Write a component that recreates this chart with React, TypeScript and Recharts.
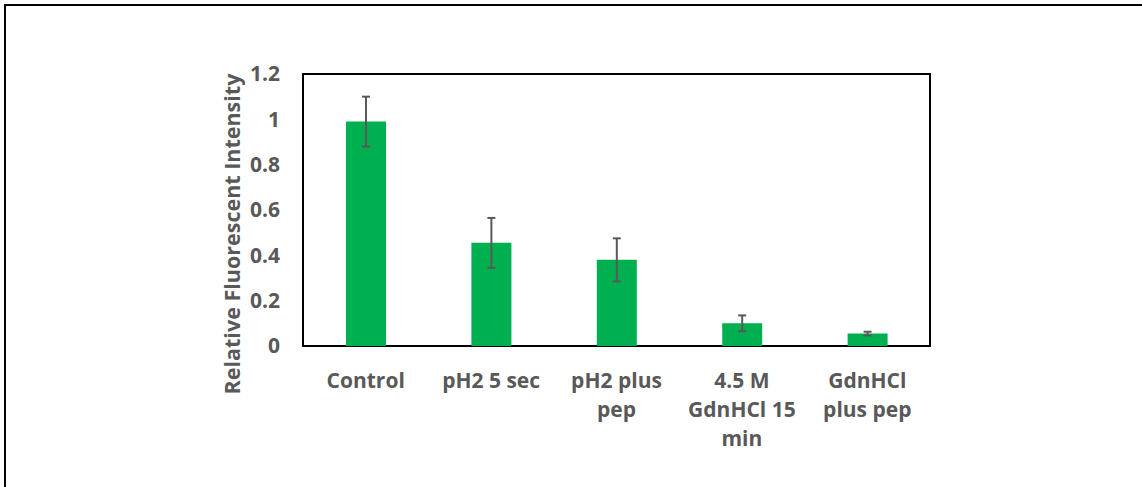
import React from 'react';
import {
  BarChart,
  Bar,
  XAxis,
  YAxis,
  ErrorBar,
  ReferenceArea,
  Label,
} from 'recharts';

// categories (\n = line break as in the original figure)
const categories = [
  'Control',
  'pH2 5 sec',
  'pH2 plus\npep',
  '4.5 M\nGdnHCl 15\nmin',
  'GdnHCl\nplus pep',
];
const intensity = [0.99, 0.455, 0.38, 0.1, 0.055];
const errors = [0.11, 0.11, 0.095, 0.035, 0.008];
const yTicks = [0, 0.2, 0.4, 0.6, 0.8, 1, 1.2];

const data = categories.map((name, i) => ({
  name,
  value: intensity[i],
  err: errors[i],
}));

const FONT = '"Open Sans", Lato, sans-serif';
const GRAY = '#595959';

const CategoryTick = (props: any) => {
  const { x, y, payload } = props;
  const lines = String(payload.value).split('\n');
  return (
    <text
      x={x}
      y={y + 42}
      textAnchor="middle"
      fill={GRAY}
      fontSize={21}
      fontWeight="bold"
      fontFamily={FONT}
    >
      {lines.map((line, i) => (
        <tspan key={i} x={x} dy={i === 0 ? 0 : 29}>
          {line}
        </tspan>
      ))}
    </text>
  );
};

const YTitle = () => (
  <text
    x={231}
    y={234}
    transform="rotate(-90 231 234)"
    textAnchor="middle"
    dominantBaseline="central"
    fill={GRAY}
    fontSize={21.5}
    fontWeight="bold"
    fontFamily={FONT}
  >
    Relative Fluorescent Intensity
  </text>
);

export default function App() {
  return (
    <div
      style={{
        position: 'fixed',
        left: 0,
        top: 0,
        width: 1142,
        height: 487,
        background: '#fff',
        overflow: 'hidden',
      }}
    >
      <div
        style={{
          position: 'absolute',
          left: 4,
          top: 4,
          width: 1150,
          height: 500,
          borderLeft: '2px solid #000',
          borderTop: '2px solid #000',
        }}
      />
      <div style={{ position: 'absolute', left: 0, top: 0 }}>
        <BarChart
          width={1142}
          height={487}
          data={data}
          margin={{ top: 74, right: 212, left: 0, bottom: 0 }}
          barCategoryGap={0}
        >
          <XAxis
            dataKey="name"
            height={141}
            axisLine={false}
            tickLine={false}
            tickSize={0}
            tickMargin={0}
            interval={0}
            tick={<CategoryTick />}
          />
          <YAxis
            width={303}
            domain={[0, 1.2]}
            ticks={yTicks}
            axisLine={false}
            tickLine={false}
            tickSize={0}
            tickMargin={23}
            tickFormatter={(v: number) => String(Number(v.toFixed(1)))}
            tick={{ fill: GRAY, fontSize: 21, fontWeight: 'bold', fontFamily: FONT }}
          >
            <Label content={<YTitle />} />
          </YAxis>
          <Bar dataKey="value" fill="#00B050" barSize={40} isAnimationActive={false}>
            <ErrorBar
              dataKey="err"
              width={4}
              stroke={GRAY}
              strokeWidth={2}
              direction="y"
              isAnimationActive={false}
            />
          </Bar>
          <ReferenceArea
            y1={0}
            y2={1.2}
            fill="none"
            stroke="#000"
            strokeWidth={2}
            ifOverflow="visible"
          />
        </BarChart>
      </div>
    </div>
  );
}
